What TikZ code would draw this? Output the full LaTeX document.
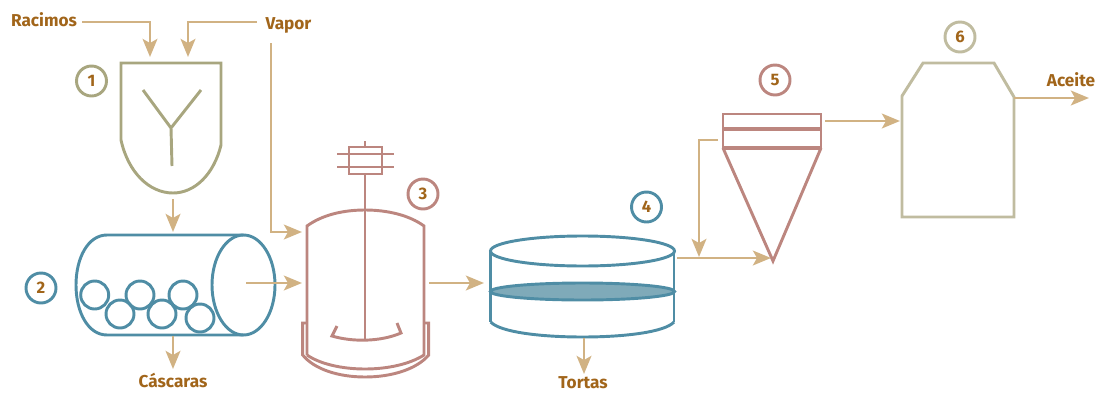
\documentclass[tikz,border=0pt]{standalone}
\usepackage{fontspec}
\setmainfont{Fira Sans}
\usetikzlibrary{arrows.meta}
\definecolor{olivec}{HTML}{A8A67F}
\definecolor{palec}{HTML}{C0BCA0}
\definecolor{tealc}{HTML}{4F8DA5}
\definecolor{rosec}{HTML}{BC867F}
\definecolor{tanc}{HTML}{D1B283}
\definecolor{textc}{HTML}{A1651A}
\definecolor{fillc}{HTML}{7FAAB9}
\tikzset{
  x=0.75pt,y=-0.75pt,
  flow/.style={draw=tanc,line width=2.2pt,-{Stealth[length=13.5pt,width=11pt,inset=3pt]}},
  equip/.style={line width=2.2pt,line join=miter,fill=none},
  lbl/.style={text=textc,font=\fontsize{12.9pt}{14pt}\selectfont\bfseries,inner sep=0pt,anchor=base},
  num/.style={circle,draw=#1,line width=2.2pt,minimum size=22.5pt,inner sep=0pt,text=textc,font=\fontsize{12.5pt}{14pt}\selectfont\bfseries},
}
\begin{document}
\begin{tikzpicture}
\useasboundingbox (0,0) rectangle (1096,393);
% labels
\node[lbl] (racimos) at (44,26) {Racimos};
\node[lbl] (vapor) at (288.5,29) {Vapor};
\node[lbl] (cascaras) at (173,387) {Cáscaras};
\node[lbl] (tortas) at (583,388) {Tortas};
\node[lbl] (aceite) at (1071,86) {Aceite};
% numbers
\node[num=olivec] (n1) at (91.5,81) {1};
\node[num=tealc] (n2) at (41,288) {2};
\node[num=rosec] (n3) at (423,194) {3};
\node[num=tealc] (n4) at (646.5,207) {4};
\node[num=rosec] (n5) at (775,80) {5};
\node[num=palec] (n6) at (960,37) {6};
% hopper
\draw[equip,draw=olivec] (121,140) -- (121,63) -- (221,63) -- (221,145)
  .. controls (214,174) and (195,193) .. (173,193)
  .. controls (149,193) and (128,172) .. (121,140);
\draw[equip,draw=olivec] (143,90) -- (171,128) -- (201,90) (171,128) -- (172,166);
% drum
\draw[equip,draw=tealc] (243.5,235) -- (107,235) .. controls (88,235) and (76,258) .. (76,285)
  .. controls (76,312) and (88,335) .. (107,335) -- (243.5,335);
\draw[equip,draw=tealc] (243.5,285) ellipse [x radius=31.5,y radius=50];
\foreach \cx/\cy in {94.7/295,120/314,140/295,162/314,183/295,200/318}
  \draw[equip,draw=tealc] (\cx,\cy) circle [radius=14];
% reactor
\draw[equip,draw=rosec] (307,355) -- (307,226) .. controls (322,215) and (343,210) .. (365,210)
  .. controls (387,210) and (409,215) .. (424,226) -- (424,355)
  .. controls (410,364) and (388,369) .. (365,369)
  .. controls (342,369) and (320,364) .. (307,355);
\draw[equip,draw=rosec] (307,323) -- (302.7,323) -- (302.7,355)
  .. controls (314,369) and (338,377) .. (365,377)
  .. controls (392,377) and (417,369) .. (428.7,355) -- (428.7,323) -- (424,323);
\draw[equip,draw=rosec] (365,141) -- (365,147) (365,174) -- (365,341);
\draw[equip,draw=rosec] (349,147) rectangle (382,174);
\draw[equip,draw=rosec] (337,154) -- (394,154) (337,167) -- (394,167);
\draw[equip,draw=rosec] (337,326) -- (332,336) .. controls (352,342) and (380,342) .. (401,333) -- (397,323);
% filter
\draw[equip,draw=tealc] (490.7,251) -- (490.7,322) (674,251) -- (674,322);
\draw[equip,draw=tealc] (582.5,251) ellipse [x radius=92,y radius=15];
\draw[equip,draw=tealc,fill=fillc] (582.5,291.5) ellipse [x radius=92,y radius=8.5];
\draw[equip,draw=tealc] (490.7,322) .. controls (500,332) and (540,337) .. (582.5,337)
  .. controls (625,337) and (665,332) .. (674,322);
% cyclone
\draw[equip,draw=rosec] (723,148) -- (723,114) -- (821,114) -- (821,148);
\draw[equip,draw=rosec,line width=2.8pt] (723,129) -- (821,129) (722,148) -- (822,148);
\draw[equip,draw=rosec] (723,148) -- (773,261) -- (821,148);
% tank
\draw[equip,draw=palec] (902,96) -- (923,63) -- (994,63) -- (1014,97) -- (1014,217) -- (902,217) -- cycle;
% connector ends
\coordinate (racimosOut) at (82,22);
\coordinate (vaporOut) at (257,22);
\coordinate (racimosIn) at (150,57);
\coordinate (vaporIn) at (188,57);
\coordinate (hopperOut) at (173,199);
\coordinate (drumTop) at (173,232);
\coordinate (drumIn) at (246,283);
\coordinate (reactorIn) at (302,283);
\coordinate (vaporStart) at (271,43);
\coordinate (vaporEnd) at (302,232);
\coordinate (drumOut) at (173,336);
\coordinate (drumOutEnd) at (173,369);
\coordinate (reactorOut) at (429,283);
\coordinate (filterIn) at (484,283);
\coordinate (filterOut) at (584,338);
\coordinate (filterOutEnd) at (584,374);
\coordinate (filterRight) at (677,258);
\coordinate (cycloneIn) at (771,258);
\coordinate (recycleStart) at (718,140);
\coordinate (recycleEnd) at (699,257);
\coordinate (cycloneOut) at (825,121);
\coordinate (tankIn) at (900,121);
\coordinate (tankOut) at (1014,98);
\coordinate (oilEnd) at (1089,98);
% connectors
\draw[flow] (racimosOut) -| (racimosIn);
\draw[flow] (vaporOut) -| (vaporIn);
\draw[flow] (vaporStart) |- (vaporEnd);
\draw[flow] (hopperOut) -- (drumTop);
\draw[flow] (drumIn) -- (reactorIn);
\draw[flow] (drumOut) -- (drumOutEnd);
\draw[flow] (reactorOut) -- (filterIn);
\draw[flow] (filterOut) -- (filterOutEnd);
\draw[flow] (filterRight) -- (cycloneIn);
\draw[flow] (recycleStart) -| (recycleEnd);
\draw[flow] (cycloneOut) -- (tankIn);
\draw[flow] (tankOut) -- (oilEnd);
\end{tikzpicture}
\end{document}
